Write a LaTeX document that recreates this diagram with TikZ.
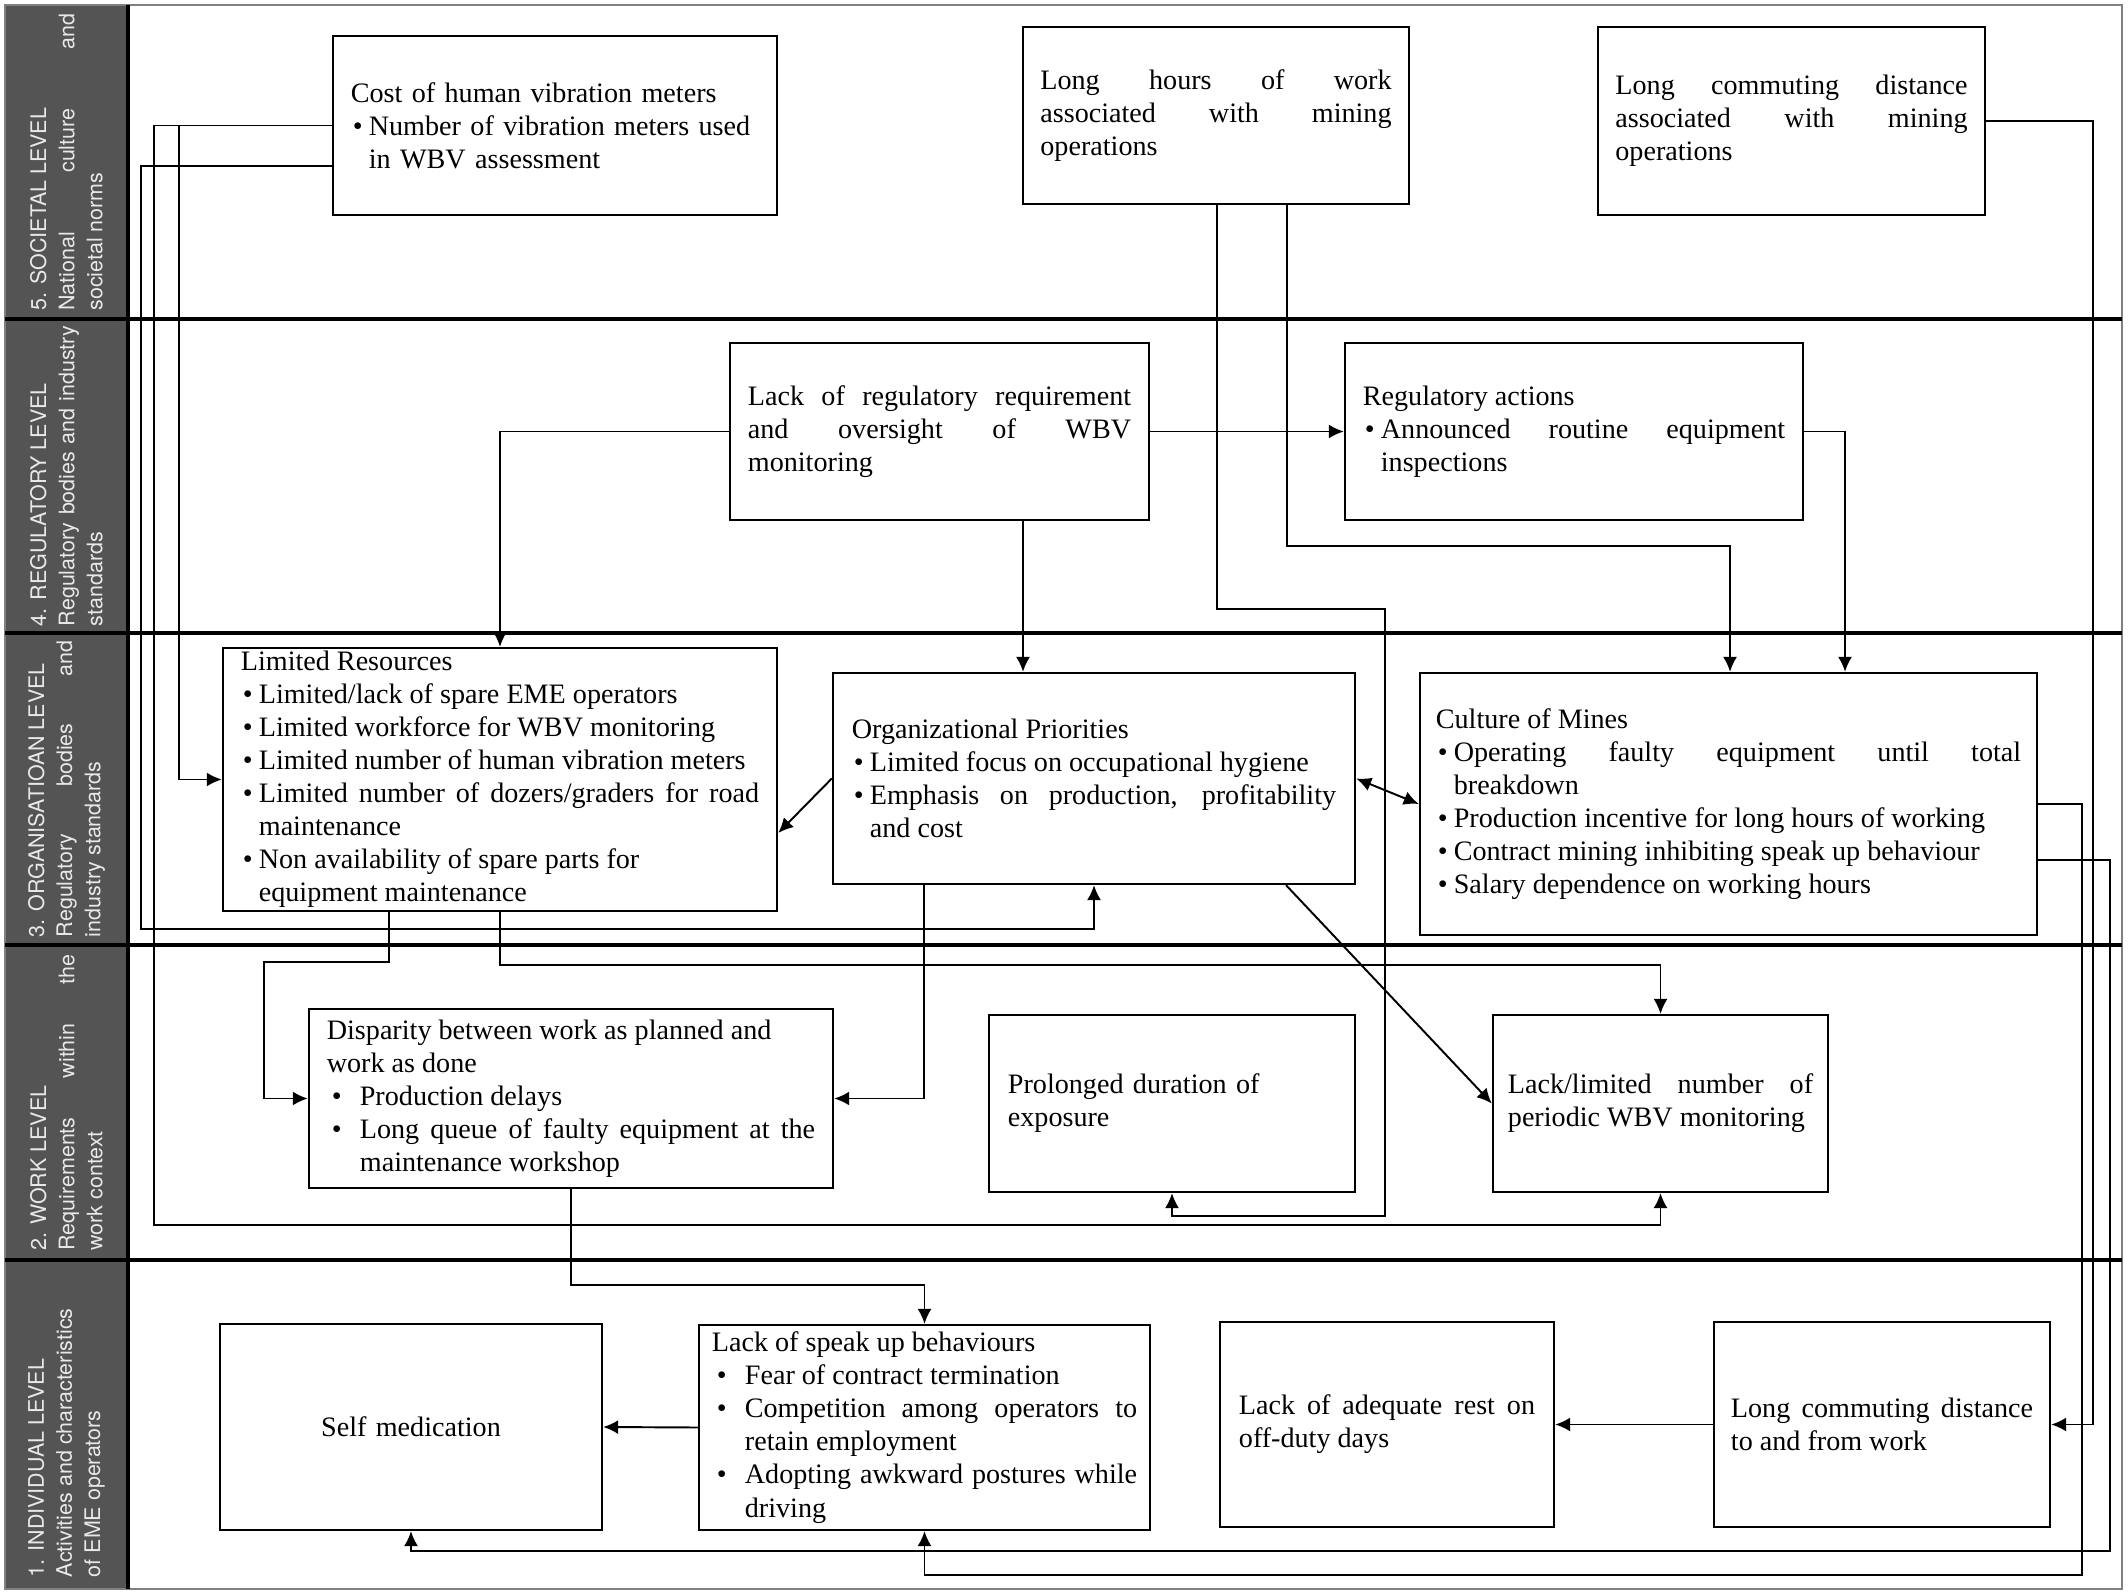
\documentclass[tikz,border=0pt]{standalone}
\usepackage{fontspec}
\setmainfont{Liberation Serif}
\newfontfamily\sidefont{TeX Gyre Heros}
\usetikzlibrary{arrows.meta}
\definecolor{sidegray}{RGB}{84,84,84}
\definecolor{sidetext}{RGB}{232,232,232}
\newcommand{\boxfont}{\fontsize{8}{9.4}\selectfont\tolerance=10000\hbadness=10000\hyphenpenalty=10000}
\newcommand{\sidelabelfont}{\sidefont\fontsize{6.1}{8}\selectfont\tolerance=10000\hbadness=10000\hyphenpenalty=10000}
\newcommand{\bl}{\par\hangindent=1.8mm\hangafter=1\noindent\makebox[1.8mm][l]{\hspace{0.2mm}\textbullet}}
\newcommand{\bw}{\par\hangindent=3.3mm\hangafter=1\noindent\makebox[3.3mm][l]{\hspace{0.5mm}\textbullet}}
\tikzset{>={Latex[length=1.5mm,width=1.4mm]}}
\tikzset{
  box/.style={draw, line width=0.6pt, inner sep=0pt, font=\boxfont},
  link/.style={->, line width=0.55pt},
  level/.style={line width=1.1pt},
  side/.style={rotate=90, inner sep=0pt, align=justify, text=sidetext, font=\sidelabelfont}
}
\begin{document}
\begin{tikzpicture}[x=0.01cm, y=-0.01cm]
    \useasboundingbox (0,0) rectangle (2128,1595);
    \fill[sidegray] (5,5) rectangle (128,1589);
    \draw[gray, line width=0.6pt] (5,5) rectangle (2122,1589);
    \draw[level] (128,5) -- (128,1589);
    \foreach \y in {319,633,945,1260} \draw[level] (5,\y) -- (2122,\y);
    \node[side, text width=2.97cm] (l5) at (66.5,162) {5. SOCIETAL LEVEL\\ National culture and\linebreak societal norms};
    \node[side, text width=3.0cm] (l4) at (66.5,476) {4. REGULATORY LEVEL\\ Regulatory bodies and industry\linebreak standards};
    \node[side, text width=2.96cm] (l3) at (66.5,789) {3. ORGANISATIOAN LEVEL\\ Regulatory bodies and\linebreak industry standards};
    \node[side, text width=2.96cm] (l2) at (66.5,1102.5) {2. WORK LEVEL\\ Requirements within the\linebreak work context};
    \node[side, text width=3.05cm] (l1) at (66.5,1424.5) {1. INDIVIDUAL LEVEL\\ Activities and characteristics\\ of EME operators};

    \node[box, minimum width=4.44cm, minimum height=1.79cm, text width=4.08cm, align=left] (cost) at (555,125.5)
      {Cost of human vibration meters\bl Number of vibration meters used\newline in WBV assessment\par};
    \node[box, minimum width=3.86cm, minimum height=1.77cm, text width=3.51cm, align=justify] (hours) at (1216,115.5)
      {Long hours of work\linebreak associated with mining\linebreak operations};
    \node[box, minimum width=3.87cm, minimum height=1.88cm, text width=3.52cm, align=justify] (commute) at (1791.5,121)
      {Long commuting distance\linebreak associated with mining\linebreak operations};
    \node[box, minimum width=4.19cm, minimum height=1.77cm, text width=3.83cm, align=justify] (lackreg) at (939.5,431.5)
      {Lack of regulatory requirement\linebreak and oversight of WBV\linebreak monitoring};
    \node[box, minimum width=4.58cm, minimum height=1.77cm, text width=4.22cm, align=justify] (regact) at (1574,431.5)
      {Regulatory actions\bl Announced routine equipment\linebreak inspections\par};
    \node[box, minimum width=5.54cm, minimum height=2.63cm, text width=5.18cm, align=justify] (limres) at (500,779.5)
      {Limited Resources\bl Limited/lack of spare EME operators\bl Limited workforce for WBV monitoring\bl Limited number of human vibration meters\bl Limited number of dozers/graders for road\linebreak maintenance\bl Non availability of spare parts for\\ equipment maintenance\par};
    \node[box, minimum width=5.22cm, minimum height=2.11cm, text width=4.84cm, align=justify] (orgpri) at (1094,778.5)
      {Organizational Priorities\bl Limited focus on occupational hygiene\bl Emphasis on production, profitability\linebreak and cost\par};
    \node[box, minimum width=6.17cm, minimum height=2.62cm, text width=5.85cm, align=justify] (culture) at (1728.5,804)
      {Culture of Mines\bl Operating faulty equipment until total\linebreak breakdown\bl Production incentive for long hours of working\bl Contract mining inhibiting speak up behaviour\bl Salary dependence on working hours\par};
    \node[box, minimum width=5.24cm, minimum height=1.79cm, text width=4.88cm, align=justify] (disparity) at (571,1098.5)
      {Disparity between work as planned and\\ work as done\bw Production delays\bw Long queue of faulty equipment at the\linebreak maintenance workshop\par};
    \node[box, minimum width=3.66cm, minimum height=1.77cm, text width=3.28cm, align=left] (prolonged) at (1172,1103.5)
      {Prolonged duration of\\ exposure};
    \node[box, minimum width=3.35cm, minimum height=1.77cm, text width=3.05cm, align=justify] (lacklim) at (1660.5,1103.5)
      {Lack/limited number of\linebreak periodic WBV monitoring};
    \node[box, minimum width=3.82cm, minimum height=2.06cm, text width=3.4cm, align=center] (selfmed) at (411,1427)
      {Self medication};
    \node[box, minimum width=4.51cm, minimum height=2.05cm, text width=4.25cm, align=justify] (speakup) at (924.5,1427.5)
      {Lack of speak up behaviours\bw Fear of contract termination\bw Competition among operators to\linebreak retain employment\bw Adopting awkward postures while\linebreak driving\par};
    \node[box, minimum width=3.34cm, minimum height=2.05cm, text width=2.96cm, align=justify] (rest) at (1387,1424.5)
      {Lack of adequate rest on\linebreak off-duty days};
    \node[box, minimum width=3.36cm, minimum height=2.05cm, text width=3.02cm, align=justify] (commute2) at (1882,1424.5)
      {Long commuting distance\linebreak to and from work};

    \draw[link] (cost.west) -| (154,1225) -| (lacklim.south);
    \draw[link] (cost.west) -| (179,779.5) -- (limres.west);
    \draw[link] (cost.west |- 0,166) -| (141,929) -| (orgpri.south);
    \draw[link] (lackreg.west) -| (limres.north);
    \draw[link] (lackreg.east) -- (regact.west);
    \draw[link] (lackreg.south -| 1023,0) -- (orgpri.north -| 1023,0);
    \draw[link] (hours.south -| 1287,0) |- (1730,546) -- (culture.north -| 1730,0);
    \draw[link] (hours.south -| 1217,0) |- (1385,609) |- (prolonged.south |- 0,1216) -- (prolonged.south);
    \draw[link] (regact.east) -| (culture.north -| 1845,0);
    \draw[link] (commute.east) -| (2093,1424.5) -- (commute2.east);
    \draw[link] (culture.east) -| (2082,1575) -| (speakup.south);
    \draw[link] (culture.east |- 0,860) -| (2110,1551) -| (selfmed.south);
    \draw[link] (orgpri.west) -- (limres.east |- 0,833);
    \draw[link, <->] (orgpri.east) -- (culture.west);
    \draw[link] (orgpri.south -| 924,0) |- (disparity.east);
    \draw[link] (orgpri.south -| 1286,0) -- (lacklim.west);
    \draw[link] (limres.south -| 389,0) |- (264,962) |- (disparity.west);
    \draw[link] (limres.south) |- (1660.5,965) -- (lacklim.north);
    \draw[link] (disparity.south) |- (924.5,1285) -- (speakup.north);
    \draw[link] (speakup.west) -- (selfmed.east);
    \draw[link] (commute2.west) -- (rest.east);
  \end{tikzpicture}
\end{document}
